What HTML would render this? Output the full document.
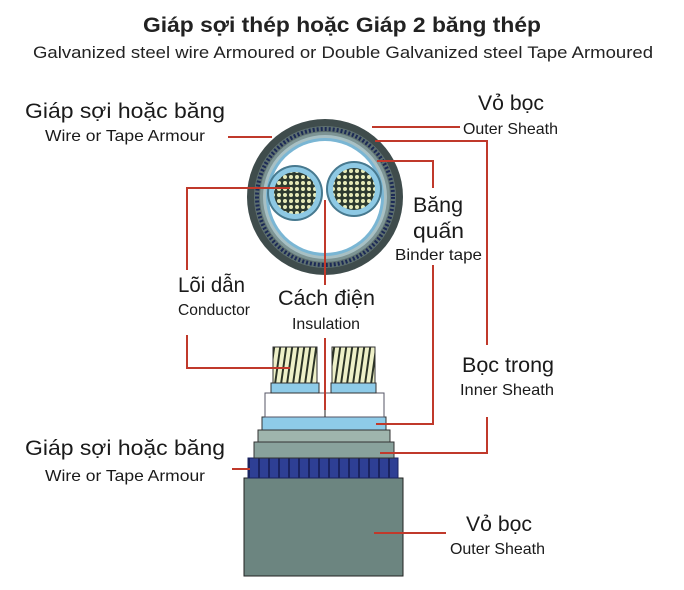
<!DOCTYPE html>
<html><head><meta charset="utf-8"><style>
html,body{margin:0;padding:0;background:#fff;}
svg{display:block;font-family:"Liberation Sans",sans-serif;}
</style></head><body>
<svg width="684" height="590" viewBox="0 0 684 590" xmlns="http://www.w3.org/2000/svg">
<defs>
<pattern id="strand" width="6" height="36" patternUnits="userSpaceOnUse" patternTransform="skewX(-8)">
<rect width="6" height="36" fill="#eef0c8"/><rect x="4" width="2" height="36" fill="#2b3326"/>
</pattern>
<pattern id="arm" width="10" height="20" patternUnits="userSpaceOnUse">
<rect width="10" height="20" fill="#2e3f94"/><rect x="8" width="2" height="20" fill="#1a2360"/>
</pattern>
<pattern id="dots" width="6" height="6" patternUnits="userSpaceOnUse">
<rect width="6" height="6" fill="#2d3a30"/><circle cx="3" cy="3" r="2" fill="#e6eab8"/>
</pattern>
</defs>
<text x="342" y="32" text-anchor="middle" font-size="21" font-weight="bold" fill="#222" textLength="398" lengthAdjust="spacingAndGlyphs">Giáp sợi thép hoặc Giáp 2 băng thép</text>
<text x="343" y="58" text-anchor="middle" font-size="17" fill="#222" textLength="620" lengthAdjust="spacingAndGlyphs">Galvanized steel wire Armoured or Double Galvanized steel Tape Armoured</text>

<circle cx="325" cy="197" r="78" fill="#3f4c4c"/>
<circle cx="325" cy="197" r="71" fill="#5e7070"/>
<circle cx="325" cy="197" r="68" fill="none" stroke="#1c2a55" stroke-width="4" stroke-dasharray="2 2"/>
<circle cx="325" cy="197" r="65" fill="#7d9494"/>
<circle cx="325" cy="197" r="62" fill="#a8c0c4"/>
<circle cx="325" cy="197" r="59" fill="#7ab6d4"/>
<circle cx="325" cy="197" r="56" fill="#fff"/>
<circle cx="295" cy="193" r="28" fill="#47798f"/>
<circle cx="295" cy="193" r="26" fill="#8ec9e4"/>
<circle cx="295" cy="193" r="21" fill="url(#dots)"/>
<circle cx="354" cy="189" r="28" fill="#47798f"/>
<circle cx="354" cy="189" r="26" fill="#8ec9e4"/>
<circle cx="354" cy="189" r="21" fill="url(#dots)"/>

<rect x="244" y="478" width="159" height="98" fill="#6c8580" stroke="#222" stroke-width="1"/>
<rect x="248" y="458" width="150" height="20" fill="url(#arm)" stroke="#1a2360"/>
<rect x="254" y="442" width="140" height="16" fill="#89a29c" stroke="#333"/>
<rect x="258" y="430" width="132" height="12" fill="#9fb5ad" stroke="#333"/>
<rect x="262" y="417" width="124" height="13" fill="#8ecbe8" stroke="#333"/>
<rect x="265" y="393" width="119" height="24" fill="#fff" stroke="#556" stroke-width="1"/>
<line x1="325" y1="393" x2="325" y2="417" stroke="#222"/>
<rect x="271" y="383" width="48" height="10" fill="#8ecbe8" stroke="#333"/>
<rect x="331" y="383" width="45" height="10" fill="#8ecbe8" stroke="#333"/>
<rect x="273" y="347" width="44" height="36" fill="url(#strand)" stroke="#333"/>
<rect x="332" y="347" width="43" height="36" fill="url(#strand)" stroke="#333"/>

<g stroke="#c0392b" stroke-width="2" fill="none">
<polyline points="228,137 272,137"/>
<polyline points="290,188 187,188 187,270"/>
<polyline points="187,335 187,368 290,368"/>
<polyline points="325,200 325,285"/>
<polyline points="325,338 325,410"/>
<polyline points="372,127 460,127"/>
<polyline points="375,141 487,141 487,345"/>
<polyline points="487,417 487,453 380,453"/>
<polyline points="377,161 433,161 433,188"/>
<polyline points="433,265 433,424 376,424"/>
<polyline points="374,533 446,533"/>
<polyline points="232,469 250,469"/>
</g>

<g fill="#1a1a1a" lengthAdjust="spacingAndGlyphs">
<text x="25" y="118" font-size="21" textLength="200" lengthAdjust="spacingAndGlyphs">Giáp sợi hoặc băng</text>
<text x="45" y="141" font-size="16" textLength="160" lengthAdjust="spacingAndGlyphs">Wire or Tape Armour</text>
<text x="478" y="110" font-size="21" textLength="66" lengthAdjust="spacingAndGlyphs">Vỏ bọc</text>
<text x="463" y="134" font-size="16" textLength="95" lengthAdjust="spacingAndGlyphs">Outer Sheath</text>
<text x="413" y="212" font-size="21" textLength="50" lengthAdjust="spacingAndGlyphs">Băng</text>
<text x="413" y="238" font-size="21" textLength="51" lengthAdjust="spacingAndGlyphs">quấn</text>
<text x="395" y="260" font-size="16" textLength="87" lengthAdjust="spacingAndGlyphs">Binder tape</text>
<text x="178" y="292" font-size="21" textLength="67" lengthAdjust="spacingAndGlyphs">Lõi dẫn</text>
<text x="178" y="315" font-size="16" textLength="72" lengthAdjust="spacingAndGlyphs">Conductor</text>
<text x="278" y="305" font-size="21" textLength="97" lengthAdjust="spacingAndGlyphs">Cách điện</text>
<text x="292" y="329" font-size="16" textLength="68" lengthAdjust="spacingAndGlyphs">Insulation</text>
<text x="462" y="372" font-size="21" textLength="92" lengthAdjust="spacingAndGlyphs">Bọc trong</text>
<text x="460" y="395" font-size="16" textLength="94" lengthAdjust="spacingAndGlyphs">Inner Sheath</text>
<text x="25" y="455" font-size="21" textLength="200" lengthAdjust="spacingAndGlyphs">Giáp sợi hoặc băng</text>
<text x="45" y="481" font-size="16" textLength="160" lengthAdjust="spacingAndGlyphs">Wire or Tape Armour</text>
<text x="466" y="531" font-size="21" textLength="66" lengthAdjust="spacingAndGlyphs">Vỏ bọc</text>
<text x="450" y="554" font-size="16" textLength="95" lengthAdjust="spacingAndGlyphs">Outer Sheath</text>
</g>
</svg>
</body></html>
